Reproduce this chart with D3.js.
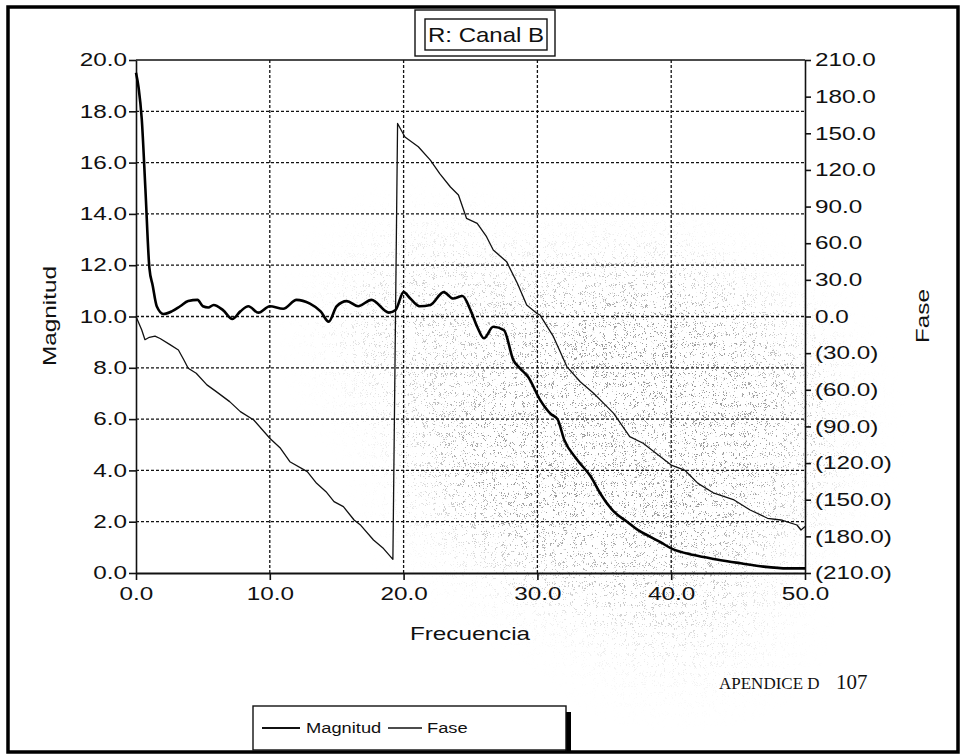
<!DOCTYPE html>
<html>
<head>
<meta charset="utf-8">
<script src="https://cdn.jsdelivr.net/npm/d3@7"></script>
<style>
  html, body { margin: 0; padding: 0; background: #fff; }
  svg { display: block; }
</style>
</head>
<body>
<svg id="chart" width="962" height="755"></svg>
<script>
// Frequency axis ticks
const freqTicks = [0, 10, 20, 30, 40, 50];
// Magnitude axis ticks (left)
const magTicks = [0, 2, 4, 6, 8, 10, 12, 14, 16, 18, 20];
// Phase axis ticks (right), degrees
const phaseTicks = [-210, -180, -150, -120, -90, -60, -30, 0, 30, 60, 90, 120, 150, 180, 210];

// Magnitud series: frequency, magnitude
const magFreq = [0, 0.2, 0.43, 0.7, 1.0, 1.25, 1.55, 2.05, 2.67, 3.3, 3.9, 4.6, 5.0, 5.4, 5.8, 6.5, 7.2, 7.8, 8.4, 9.15,
  10.0, 11.0, 12.0, 13.0, 13.8, 14.4, 15.0, 15.75, 16.6, 17.6, 18.9, 19.4, 20.0, 20.5, 21.2, 22.0, 23.0, 23.7, 24.4, 25.0,
  25.5, 26.0, 26.7, 27.5, 28.2, 28.7, 29.3, 30.2, 31.0, 31.5, 32.0, 33.0, 34.0, 34.7, 35.7, 36.7, 37.5, 38.4, 39.2, 40.0,
  41.7, 43.4, 45.2, 46.9, 48.7, 50.0];
const magValues = [19.5, 18.9, 17.7, 15.0, 11.9, 11.2, 10.4, 10.1, 10.2, 10.4, 10.6, 10.65, 10.4, 10.35, 10.45, 10.25, 9.9, 10.2, 10.4, 10.15,
  10.4, 10.3, 10.65, 10.5, 10.2, 9.8, 10.4, 10.6, 10.4, 10.65, 10.15, 10.25, 10.95, 10.7, 10.4, 10.45, 10.95, 10.7, 10.8, 10.25,
  9.6, 9.15, 9.6, 9.47, 8.3, 7.98, 7.65, 6.75, 6.2, 6.0, 5.2, 4.4, 3.75, 3.1, 2.4, 2.0, 1.68, 1.42, 1.2, 0.96,
  0.70, 0.53, 0.38, 0.25, 0.18, 0.18];

// Fase series: frequency, phase in degrees
const phaseFreq = [0, 0.43, 0.67, 1.0, 1.42, 1.8, 2.54, 3.17, 3.6, 3.9, 4.5, 5.3, 6.0, 7.0, 7.8, 8.8, 10.0, 10.8, 11.5, 12.8,
  13.5, 14.2, 14.8, 15.5, 16.3, 16.8, 17.75, 18.5, 19.2, 19.55, 20.1, 21.1, 22.0, 22.7, 23.5, 24.1, 24.7, 25.5, 26.2, 26.7,
  27.7, 28.5, 29.2, 29.95, 30.2, 31.2, 32.2, 33.2, 34.2, 35.2, 35.7, 36.9, 37.9, 39.2, 40.0, 41.0, 42.0, 43.2, 44.7, 45.9,
  47.2, 48.2, 49.4, 49.7, 50.0];
const phaseValues = [0, -11, -19, -17, -16, -18, -23, -27.4, -36, -42.4, -46.5, -56, -61.5, -69.7, -77.9, -84.7, -99.7, -107.9, -118.9, -127,
  -136.6, -143.4, -151.6, -155.7, -166.6, -171, -183, -190, -198.8, 158, 147, 139, 128, 117, 106, 99.5, 80.4, 76.3, 65.3, 54.4,
  44.9, 27.2, 9.4, 2.6, 1.2, -16.5, -41, -53.4, -62.9, -73.8, -79.3, -98.4, -103.8, -114.8, -121.6, -125.7, -136.6, -144.7, -150.2, -158.4,
  -165.2, -166.6, -170.7, -174.8, -172];

const W = 962, H = 755;
const plot = { left: 136, right: 805, top: 60, bottom: 573 };
const SANS = "'Liberation Sans', Arial, Helvetica, sans-serif";
const SERIF = "'Liberation Serif', 'Times New Roman', serif";
const K = 1.35; // horizontal stretch of the wide sans lettering

const svg = d3.select("#chart");
svg.append("rect").attr("width", W).attr("height", H).attr("fill", "#fff");

const x = d3.scaleLinear().domain([0, 50]).range([plot.left, plot.right]);
const yMag = d3.scaleLinear().domain([0, 20]).range([plot.bottom, plot.top]);
const yPhase = d3.scaleLinear().domain([-210, 210]).range([plot.bottom, plot.top]);

// ---- printed grain over the right half of the page ----
const defs = svg.append("defs");
const grain = defs.append("filter").attr("id", "grain")
  .attr("filterUnits", "userSpaceOnUse").attr("x", 0).attr("y", 0).attr("width", W).attr("height", H);
grain.append("feTurbulence").attr("type", "fractalNoise").attr("baseFrequency", 1.9)
  .attr("numOctaves", 1).attr("seed", 11).attr("result", "noise");
grain.append("feColorMatrix").attr("type", "matrix")
  .attr("values", "0 0 0 0 0.25  0 0 0 0 0.25  0 0 0 0 0.25  18 0 0 0 -11.2");

const grainMask = defs.append("mask").attr("id", "grainMask")
  .attr("maskUnits", "userSpaceOnUse").attr("x", 0).attr("y", 0).attr("width", W).attr("height", H);
const soft = defs.append("filter").attr("id", "soft")
  .attr("x", "-50%").attr("y", "-50%").attr("width", "200%").attr("height", "200%");
soft.append("feGaussianBlur").attr("stdDeviation", 38);
const mg = grainMask.append("g").attr("filter", "url(#soft)");
mg.append("ellipse").attr("cx", 620).attr("cy", 430).attr("rx", 200).attr("ry", 160).attr("fill", "#ddd");
mg.append("ellipse").attr("cx", 440).attr("cy", 330).attr("rx", 90).attr("ry", 80).attr("fill", "#888");
mg.append("ellipse").attr("cx", 680).attr("cy", 610).attr("rx", 90).attr("ry", 50).attr("fill", "#666");

svg.append("rect").attr("width", W).attr("height", H)
  .attr("filter", "url(#grain)").attr("mask", "url(#grainMask)").attr("fill", "#000");

// ---- page frame ----
svg.append("rect").attr("x", 8).attr("y", 7).attr("width", 950).attr("height", 745)
  .attr("fill", "none").attr("stroke", "#000").attr("stroke-width", 3.5);

// ---- title box (double rule) ----
svg.append("rect").attr("x", 415).attr("y", 10).attr("width", 140).attr("height", 46)
  .attr("fill", "#fff").attr("stroke", "#111").attr("stroke-width", 1.4);
svg.append("rect").attr("x", 425).attr("y", 19).attr("width", 122).attr("height", 31)
  .attr("fill", "#fff").attr("stroke", "#111").attr("stroke-width", 1.4);
svg.append("text").attr("transform", `translate(486,42) scale(1.2,1)`)
  .attr("text-anchor", "middle").attr("font-family", SANS).attr("font-size", 20).attr("fill", "#111")
  .text("R: Canal B");

// ---- grid ----
const grid = svg.append("g").attr("stroke", "#111").attr("stroke-width", 1.3).attr("stroke-dasharray", "3,2");
grid.selectAll("line.h").data(magTicks.filter(d => d > 0 && d < 20)).join("line").attr("class", "h")
  .attr("x1", plot.left).attr("x2", plot.right).attr("y1", d => yMag(d)).attr("y2", d => yMag(d));
grid.selectAll("line.v").data(freqTicks.filter(d => d > 0 && d < 50)).join("line").attr("class", "v")
  .attr("y1", plot.top).attr("y2", plot.bottom).attr("x1", d => x(d)).attr("x2", d => x(d));

// top rule of the plot
svg.append("line").attr("x1", plot.left).attr("x2", plot.right).attr("y1", plot.top).attr("y2", plot.top)
  .attr("stroke", "#111").attr("stroke-width", 1.6);

// ---- axes ----
function stretch(sel, k) {
  sel.each(function () {
    const t = d3.select(this);
    const tx = +t.attr("x") || 0;
    t.attr("x", tx / k).attr("transform", `scale(${k},1)`);
  });
}
function styleAxis(g) {
  g.attr("font-family", SANS).attr("font-size", 18);
  g.selectAll("text").attr("fill", "#111");
  g.selectAll("line, path").attr("stroke", "#111").attr("stroke-width", 1.6);
  stretch(g.selectAll("text"), K);
}
const f1 = d3.format(".1f");
const phaseFmt = v => v < 0 ? `(${f1(-v)})` : f1(v);

const gL = svg.append("g").attr("transform", `translate(${plot.left},0)`)
  .call(d3.axisLeft(yMag).tickValues(magTicks).tickFormat(f1).tickSize(7).tickSizeOuter(0).tickPadding(2));
styleAxis(gL);

const gR = svg.append("g").attr("transform", `translate(${plot.right},0)`)
  .call(d3.axisRight(yPhase).tickValues(phaseTicks).tickFormat(phaseFmt).tickSize(6).tickSizeOuter(0).tickPadding(4));
styleAxis(gR);

const gB = svg.append("g").attr("transform", `translate(0,${plot.bottom})`)
  .call(d3.axisBottom(x).tickValues(freqTicks).tickFormat(f1).tickSize(7).tickSizeOuter(0).tickPadding(7));
styleAxis(gB);
gB.select(".domain").attr("stroke-width", 2.2);

// ---- series ----
const magLine = d3.line().x(d => x(d[0])).y(d => yMag(d[1])).curve(d3.curveMonotoneX);
const phaseLine = d3.line().x(d => x(d[0])).y(d => yPhase(d[1]));

svg.append("path").datum(phaseFreq.map((f, i) => [f, phaseValues[i]]))
  .attr("d", phaseLine).attr("fill", "none").attr("stroke", "#111").attr("stroke-width", 1.3)
  .attr("stroke-linejoin", "round");
svg.append("path").datum(magFreq.map((f, i) => [f, magValues[i]]))
  .attr("d", magLine).attr("fill", "none").attr("stroke", "#000").attr("stroke-width", 2.6)
  .attr("stroke-linejoin", "round");

// ---- axis titles ----
svg.append("text").attr("transform", `translate(56,316) rotate(-90) scale(${K},1)`)
  .attr("text-anchor", "middle").attr("font-family", SANS).attr("font-size", 18).attr("fill", "#111")
  .text("Magnitud");
svg.append("text").attr("transform", `translate(929,316) rotate(-90) scale(${K},1)`)
  .attr("text-anchor", "middle").attr("font-family", SANS).attr("font-size", 18).attr("fill", "#111")
  .text("Fase");
svg.append("text").attr("transform", `translate(470,640) scale(${K},1)`)
  .attr("text-anchor", "middle").attr("font-family", SANS).attr("font-size", 18).attr("fill", "#111")
  .text("Frecuencia");

// ---- page note ----
svg.append("text").attr("x", 719).attr("y", 689).attr("font-family", SERIF).attr("font-size", 17)
  .attr("fill", "#111").text("APENDICE D");
svg.append("text").attr("x", 836).attr("y", 689).attr("font-family", SERIF).attr("font-size", 21)
  .attr("fill", "#111").text("107");

// ---- legend ----
const lg = svg.append("g");
lg.append("rect").attr("x", 565).attr("y", 712).attr("width", 6).attr("height", 40).attr("fill", "#000");
lg.append("rect").attr("x", 253).attr("y", 706).attr("width", 313).attr("height", 44)
  .attr("fill", "#fff").attr("stroke", "#111").attr("stroke-width", 1.4);
const legendItems = [
  { name: "Magnitud", x0: 262, x1: 300, tx: 306, w: 2.0 },
  { name: "Fase", x0: 388, x1: 422, tx: 427, w: 1.5 }
];
legendItems.forEach(it => {
  lg.append("line").attr("x1", it.x0).attr("x2", it.x1).attr("y1", 728).attr("y2", 728)
    .attr("stroke", "#111").attr("stroke-width", it.w);
  lg.append("text").attr("transform", `translate(${it.tx},733) scale(1.22,1)`)
    .attr("font-family", SANS).attr("font-size", 15).attr("fill", "#111").text(it.name);
});
</script>
</body>
</html>
